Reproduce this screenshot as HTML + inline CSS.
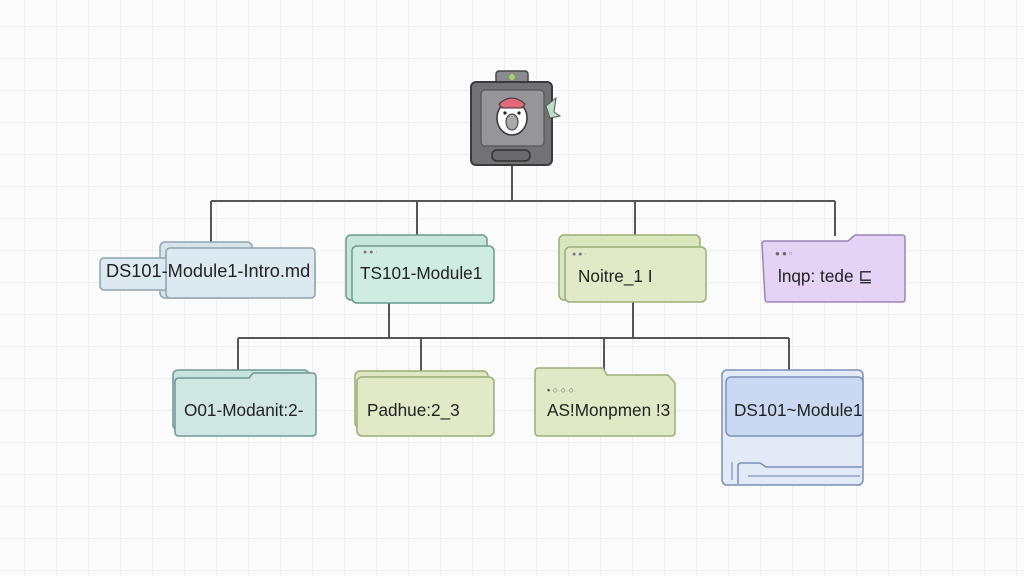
<!DOCTYPE html>
<html><head><meta charset="utf-8"><style>
html,body{margin:0;padding:0;}
body{width:1024px;height:576px;overflow:hidden;background:#fbfbfb;
background-image:linear-gradient(#efefef 1px,transparent 1px),linear-gradient(90deg,#efefef 1px,transparent 1px);background-size:32px 32px;background-position:-8px -6px;}
svg{position:absolute;left:0;top:0}
text{font-family:"Liberation Sans","DejaVu Sans",sans-serif;font-size:17.2px;fill:#222}
</style></head><body>
<svg width="1024" height="576" viewBox="0 0 1024 576">
<g stroke="#555" stroke-width="2" fill="none">
<path d="M512 165V201M211 201H835M211 201V242M417 201V236M635 201V236M835 201V236"/>
<path d="M389 302V338M633 302V338M238 338H789M238 338V372M421 338V372M604 338V370M789 338V372"/>
</g>
<!-- top icon -->
<rect x="496" y="71" width="32" height="14" rx="3" fill="#8a8a8e" stroke="#444" stroke-width="1.5"/>
<circle cx="512" cy="77" r="3" fill="#9fd36a"/>
<rect x="471" y="82" width="81" height="83" rx="5" fill="#727276" stroke="#3a3a3e" stroke-width="2"/>
<rect x="481" y="90" width="63" height="56" rx="4" fill="#96969a" stroke="#555" stroke-width="1.2"/>
<rect x="492" y="150" width="38" height="11" rx="5" fill="#6a6a6e" stroke="#333" stroke-width="1.5"/>
<ellipse cx="512" cy="118" rx="15" ry="17" fill="#fff" stroke="#333" stroke-width="1.5"/>
<path d="M499 104 Q512 92 525 104 L522 108 H502Z" fill="#e06878" stroke="#333" stroke-width="1"/>
<ellipse cx="512" cy="122" rx="6" ry="8" fill="#aaa" stroke="#333"/>
<circle cx="505" cy="113" r="1.6" fill="#222"/><circle cx="519" cy="113" r="1.6" fill="#222"/>
<path d="M546 106 L556 98 L554 112 L560 116 L550 118Z" fill="#bfe0c8" stroke="#555" stroke-width="1"/>
<!-- DS101 intro -->
<rect x="160" y="242" width="92" height="56" rx="5" fill="#d6e4ec" stroke="#8fa3b0" stroke-width="1.5"/>
<rect x="100" y="258" width="215" height="32" rx="4" fill="#dde9f0" stroke="#8fa3b0" stroke-width="1.5"/>
<rect x="166" y="248" width="149" height="50" rx="4" fill="#dde9f0" stroke="#8fa3b0" stroke-width="1.5"/>
<text x="106" y="277" style="font-size:18.2px">DS101-Module1-Intro.md</text>
<!-- TS101 -->
<rect x="346" y="235" width="141" height="65" rx="5" fill="#c6e6dc" stroke="#6a9a8e" stroke-width="1.5"/>
<rect x="352" y="246" width="142" height="57" rx="5" fill="#cfece3" stroke="#6a9a8e" stroke-width="1.5"/>
<text x="363" y="254" style="font-size:7px;fill:#777">● ● ·</text>
<text x="360" y="279">TS101-Module1</text>
<!-- Noitre -->
<rect x="559" y="235" width="141" height="65" rx="5" fill="#dae6bd" stroke="#9aae76" stroke-width="1.5"/>
<rect x="565" y="247" width="141" height="55" rx="5" fill="#e0eac7" stroke="#9aae76" stroke-width="1.5"/>
<text x="572" y="256" style="font-size:7px;fill:#777">● ● ·</text>
<text x="578" y="282">Noitre_1 I</text>
<!-- lnqp -->
<path d="M762 244 Q762 241 765 241 H848 L855 235 H902 Q905 235 905 238 V299 Q905 302 902 302 H768 Q765 302 765 299Z" fill="#e4d3f4" stroke="#9a84b8" stroke-width="1.5"/>
<text x="775" y="256" style="font-size:8px;fill:#666">● ●  ▫</text>
<text x="778" y="282">lnqp: tede ⊑</text>
<!-- O01 -->
<rect x="173" y="370" width="136" height="60" rx="5" fill="#c8e2de" stroke="#6d9894" stroke-width="1.5"/>
<path d="M175 382 Q175 378 179 378 H249 L253 373 H312 Q316 373 316 377 V432 Q316 436 312 436 H179 Q175 436 175 432Z" fill="#cfe6e2" stroke="#6d9894" stroke-width="1.5"/>
<text x="184" y="416">O01-Modanit:2-</text>
<!-- Padhue -->
<rect x="355" y="371" width="133" height="57" rx="5" fill="#dfe7c0" stroke="#9aae76" stroke-width="1.5"/>
<rect x="357" y="377" width="137" height="59" rx="5" fill="#e1e9c7" stroke="#9aae76" stroke-width="1.5"/>
<text x="367" y="416">Padhue:2_3</text>
<!-- AS -->
<path d="M535 372 Q535 368 539 368 H603 L607 375 H668 L675 383 V432 Q675 436 671 436 H539 Q535 436 535 432Z" fill="#e0e9c6" stroke="#9aae76" stroke-width="1.5"/>
<text x="547" y="393" style="font-size:9px;fill:#555">▪ ○ ○ ○</text>
<text x="547" y="416">AS!Monpmen !3</text>
<!-- DS101 Module1 -->
<rect x="722" y="370" width="141" height="115" rx="5" fill="#e2eaf7" stroke="#7b90b8" stroke-width="1.5"/>
<rect x="726" y="377" width="137" height="59" rx="5" fill="#c8d9f1" stroke="#7b90b8" stroke-width="1.5"/>
<path d="M738 484 V466 Q738 463 741 463 H760 L766 467 H862" fill="none" stroke="#7b90b8" stroke-width="1.5"/>
<path d="M732 480 V462 M748 476 H860" fill="none" stroke="#7b90b8" stroke-width="1.2"/>
<text x="734" y="416">DS101~Module1</text>
</svg>
</body></html>
